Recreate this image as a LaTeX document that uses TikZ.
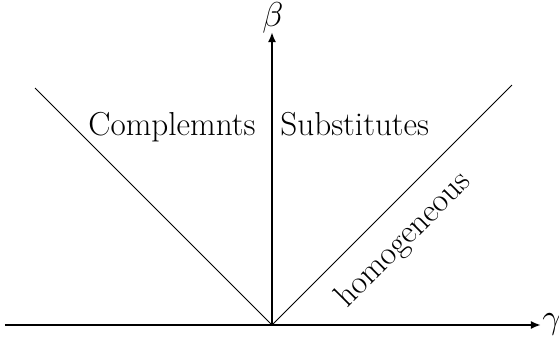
\documentclass[tikz,border=0pt]{standalone}
\usetikzlibrary{arrows.meta}
\begin{document}
\begin{tikzpicture}[x=0.5pt,y=-0.5pt,
  axis/.style={line width=1pt,-{Latex[length=5pt,width=4pt]}},
  lbl/.style={font=\fontsize{16.6}{20}\selectfont,inner sep=0pt}]
\useasboundingbox (0,0) rectangle (559,343);
\coordinate (O) at (272,325);
\coordinate (L) at (5,325);
\coordinate (R) at (541,325);
\coordinate (T) at (272,32);
\coordinate (UL) at (35,88);
\coordinate (UR) at (512,85);
\draw[line width=0.5pt] (UL) -- (O) -- (UR);
\draw[axis] (L) -- (R);
\draw[axis] (O) -- (T);
\node[lbl,anchor=west] (g) at (542,324) {$\gamma$};
\node[lbl] (b) at (273,18) {$\beta$};
\node[lbl,anchor=base east] (c) at (256,135) {Complemnts};
\node[lbl,anchor=base west] (s) at (280,135) {Substitutes};
\node[lbl,rotate=45] (h) at (404,240) {homogeneous};
\end{tikzpicture}
\end{document}
